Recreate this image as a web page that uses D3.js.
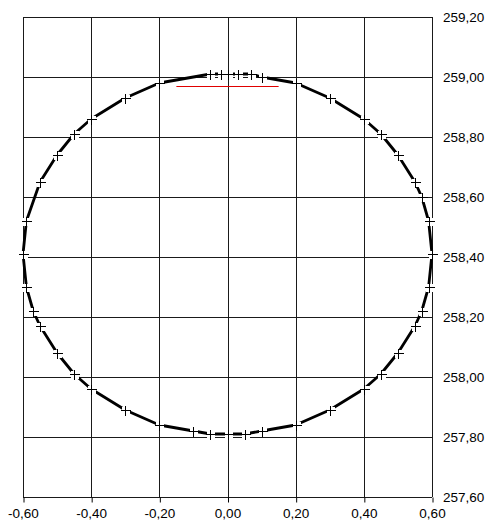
<!DOCTYPE html>
<html>
<head>
<meta charset="utf-8">
<script src="https://cdn.jsdelivr.net/npm/d3@7"></script>
<style>
  body { margin: 0; background: #fff; }
  text { font-family: "Liberation Sans", Arial, sans-serif; font-size: 13.5px; fill: #000; }
</style>
</head>
<body>
<div id="chart"></div>
<script>
// data (clockwise from the left end)
var xVals = [-0.60, -0.59, -0.55, -0.50, -0.45, -0.40, -0.30, -0.20, -0.05, -0.02, 0.00, 0.03, 0.07, 0.10,
             0.20, 0.30, 0.40, 0.45, 0.50, 0.55, 0.57, 0.59, 0.60, 0.59, 0.57, 0.55, 0.50, 0.45, 0.40,
             0.30, 0.20, 0.10, 0.05, 0.00, -0.05, -0.10, -0.20, -0.30, -0.40, -0.45, -0.50, -0.55, -0.57, -0.59];
var yVals = [258.41, 258.52, 258.65, 258.74, 258.81, 258.86, 258.93, 258.98, 259.01, 259.01, 259.01, 259.01, 259.01, 259.00,
             258.98, 258.93, 258.86, 258.81, 258.74, 258.65, 258.60, 258.52, 258.41, 258.30, 258.22, 258.17, 258.08, 258.01, 257.96,
             257.89, 257.84, 257.82, 257.81, 257.81, 257.81, 257.82, 257.84, 257.89, 257.96, 258.01, 258.08, 258.17, 258.22, 258.30];
var refX = [-0.15, 0.15];
var refY = [258.97, 258.97];
var xTicks = [-0.6, -0.4, -0.2, 0, 0.2, 0.4, 0.6];
var yTicks = [257.6, 257.8, 258.0, 258.2, 258.4, 258.6, 258.8, 259.0, 259.2];

function buildChart(containerId) {
    var width = 486;
    var height = 530;
    var margin = { top: 17, right: 54, bottom: 33, left: 23 };
    var innerWidth = width - margin.left - margin.right;
    var innerHeight = height - margin.top - margin.bottom;

    var svg = d3.select(containerId)
        .append('svg')
        .attr('width', width)
        .attr('height', height);

    var g = svg.append('g')
        .attr('transform', 'translate(' + margin.left + ',' + margin.top + ')');

    var x = d3.scaleLinear().domain([-0.6, 0.6]).range([0, innerWidth]);
    var y = d3.scaleLinear().domain([257.6, 259.2]).range([innerHeight, 0]);

    var fmt = function(d) { return d3.format('.2f')(d).replace('.', ',').replace('−', '-'); };

    // grid
    g.append('g').selectAll('line')
        .data(xTicks)
        .enter().append('line')
        .attr('x1', d => Math.round(x(d)) + 0.5)
        .attr('x2', d => Math.round(x(d)) + 0.5)
        .attr('y1', 0).attr('y2', innerHeight)
        .style('stroke', '#1a1a1a').style('stroke-width', 1);

    g.append('g').selectAll('line')
        .data(yTicks)
        .enter().append('line')
        .attr('y1', d => Math.round(y(d)) + 0.5)
        .attr('y2', d => Math.round(y(d)) + 0.5)
        .attr('x1', 0).attr('x2', innerWidth)
        .style('stroke', '#1a1a1a').style('stroke-width', 1);

    // bottom axis ticks and labels
    var xAxis = d3.axisBottom(x).tickValues(xTicks).tickSize(5).tickPadding(6).tickFormat(fmt);
    var gx = g.append('g')
        .attr('transform', 'translate(0,' + (Math.round(innerHeight) + 0.5) + ')')
        .call(xAxis);
    gx.select('.domain').remove();
    gx.selectAll('line').attr('transform', 'translate(0.5,0)').style('stroke', '#000');
    gx.selectAll('text').style('font-size', '13.5px').style('font-family', '"Liberation Sans", Arial, sans-serif');

    // right labels
    g.append('g').selectAll('text')
        .data(yTicks)
        .enter().append('text')
        .attr('x', innerWidth + 11)
        .attr('y', d => y(d))
        .attr('dominant-baseline', 'central')
        .text(fmt);

    // series line
    var pts = xVals.map((d, i) => [d, yVals[i]]);
    var line = d3.line().x(d => x(d[0])).y(d => y(d[1])).curve(d3.curveLinearClosed);

    g.append('path')
        .datum(pts)
        .attr('d', line)
        .style('fill', 'none')
        .style('stroke', '#000')
        .style('stroke-width', 2.8)
        .style('stroke-linejoin', 'round');

    // reference line
    g.append('line')
        .attr('x1', x(refX[0])).attr('x2', x(refX[1]))
        .attr('y1', Math.round(y(refY[0])) + 0.5).attr('y2', Math.round(y(refY[1])) + 0.5)
        .style('stroke', '#e00000')
        .style('stroke-width', 1.2);

    // markers: white patch under a black plus
    var mk = g.append('g').selectAll('g')
        .data(pts)
        .enter().append('g')
        .attr('transform', d => 'translate(' + (Math.round(x(d[0])) + 0.5) + ',' + (Math.round(y(d[1])) + 0.5) + ')');

    mk.append('rect')
        .attr('x', -4).attr('y', -4)
        .attr('width', 8).attr('height', 8)
        .style('fill', '#fff')
        .style('shape-rendering', 'crispEdges');

    mk.append('path')
        .attr('d', 'M-5,0H5M0,-5V5')
        .style('stroke', '#000')
        .style('stroke-width', 1)
        .style('shape-rendering', 'crispEdges');
}

buildChart('#chart');
</script>
</body>
</html>
